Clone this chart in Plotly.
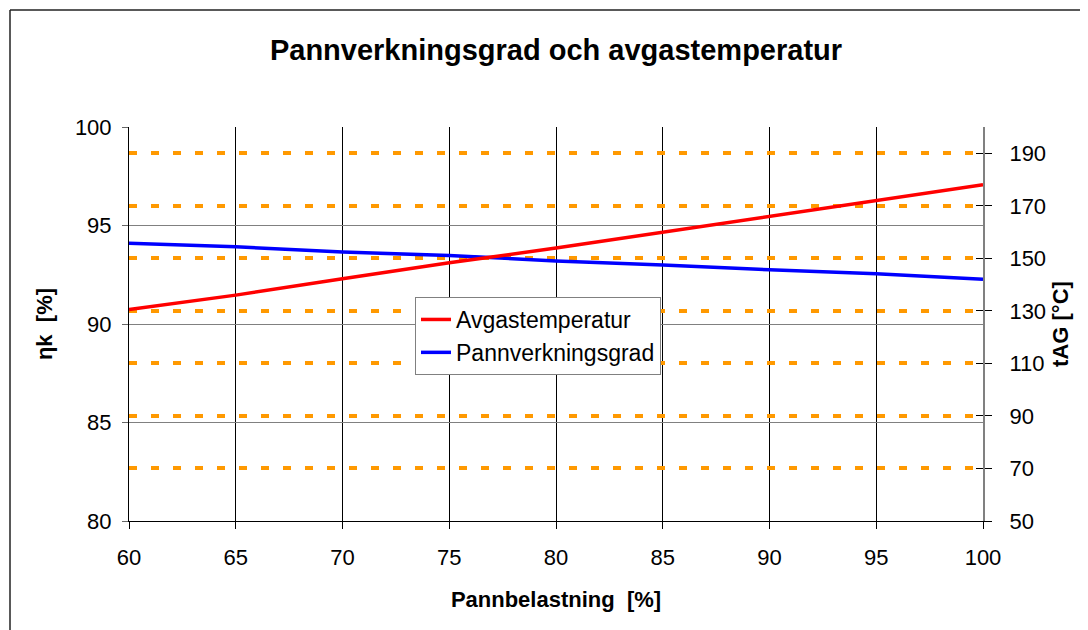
import plotly.graph_objects as go

# ---- data ----
belastning = [60, 65, 70, 75, 80, 85, 90, 95, 100]
avgastemperatur = [130.5, 136.0, 142.2, 148.3, 153.9, 160.0, 166.1, 172.2, 178.0]
pannverkningsgrad = [94.10, 93.92, 93.65, 93.48, 93.20, 93.00, 92.75, 92.55, 92.27]

x_ticks = [60, 65, 70, 75, 80, 85, 90, 95, 100]
left_ticks = [80, 85, 90, 95, 100]
right_ticks = [50, 70, 90, 110, 130, 150, 170, 190]
right_grid = [70, 90, 110, 130, 150, 170, 190]

title_text = "Pannverkningsgrad och avgastemperatur"
x_title = "Pannbelastning  [%]"
y_title = "ηk  [%]"
y2_title = "tAG [°C]"

FONT = "Arial, Liberation Sans, sans-serif"
OFF = 8  # page body margin
W, H = 1088 - OFF, 630 - OFF
ML, MR, MT, MB = 129 - OFF, 105, 127 - OFF, 109
PW, PH = W - ML - MR, H - MT - MB


def px_x(p):
    return (p - OFF - ML) / PW


def px_y(p):
    return (H - MB - (p - OFF)) / PH


fig = go.Figure()
fig.add_trace(go.Scatter(
    x=belastning, y=avgastemperatur, name="Avgastemperatur", yaxis="y2",
    mode="lines", line=dict(color="#FF0000", width=3.5)))
fig.add_trace(go.Scatter(
    x=belastning, y=pannverkningsgrad, name="Pannverkningsgrad", yaxis="y",
    mode="lines", line=dict(color="#0000FF", width=3.5)))
# helper (empty) traces so the extra tick / grid axes are drawn
for ax in ("y3", "y4"):
    fig.add_trace(go.Scatter(x=[None], y=[None], yaxis=ax, mode="lines",
                             showlegend=False, hoverinfo="skip"))

fig.update_layout(
    width=W, height=H, autosize=False,
    margin=dict(l=ML, r=MR, t=MT, b=MB),
    paper_bgcolor="white", plot_bgcolor="white",
    font=dict(family=FONT, size=22, color="black"),
    title=dict(text="<b>" + title_text + "</b>", x=(556 - OFF) / W,
               xanchor="center", y=1 - (50 - OFF) / H, yanchor="middle",
               yref="container",
               font=dict(size=29, family=FONT, color="black")),
    xaxis=dict(range=[60, 100], tickvals=x_ticks, showgrid=True,
               gridcolor="black", gridwidth=1, showline=True,
               linecolor="black", linewidth=1, ticks="outside", ticklen=7,
               tickcolor="black", zeroline=False,
               tickfont=dict(size=22), ticklabelstandoff=10,
               title=dict(text="<b>" + x_title + "</b>", standoff=22,
                          font=dict(size=22))),
    yaxis=dict(range=[80, 100], tickvals=left_ticks, showgrid=True,
               gridcolor="#808080", gridwidth=1, showline=True,
               linecolor="black", linewidth=1, ticks="outside", ticklen=6,
               tickcolor="#666666", zeroline=False,
               tickfont=dict(size=22), ticklabelstandoff=6,
               title=dict(text="<b>" + y_title + "</b>", standoff=16,
                          font=dict(size=22))),
    yaxis2=dict(range=[50, 200], tickvals=right_ticks, overlaying="y",
                side="right", showgrid=False, showline=True,
                linecolor="#808080", linewidth=2, ticks="outside", ticklen=7,
                tickcolor="black", zeroline=False,
                tickfont=dict(size=22), ticklabelstandoff=13,
                title=dict(text="<b>" + y2_title + "</b>", standoff=7,
                           font=dict(size=22))),
    yaxis3=dict(range=[50, 200], tickvals=right_ticks, overlaying="y",
                side="right", showgrid=False, showline=False,
                ticks="inside", ticklen=7, tickcolor="black",
                showticklabels=False, zeroline=False),
    yaxis4=dict(range=[50, 200], tickvals=right_grid, overlaying="y",
                side="right", showgrid=True, gridcolor="#FF9900",
                gridwidth=4, griddash="8px,14px", showline=False,
                ticks="", showticklabels=False, zeroline=False),
    legend=dict(x=px_x(415), y=px_y(297), xanchor="left", yanchor="top",
                bgcolor="white", bordercolor="#808080", borderwidth=1,
                font=dict(size=23, family=FONT)),
    showlegend=True,
)

# outer chart frame (left and top edges visible)
fig.add_shape(type="line", xref="paper", yref="paper",
              x0=px_x(10), y0=px_y(10), x1=px_x(1095), y1=px_y(10),
              line=dict(color="#222222", width=1.5))
fig.add_shape(type="line", xref="paper", yref="paper",
              x0=px_x(10), y0=px_y(10), x1=px_x(10), y1=px_y(640),
              line=dict(color="#222222", width=1.5))

fig.write_html("out.html")
